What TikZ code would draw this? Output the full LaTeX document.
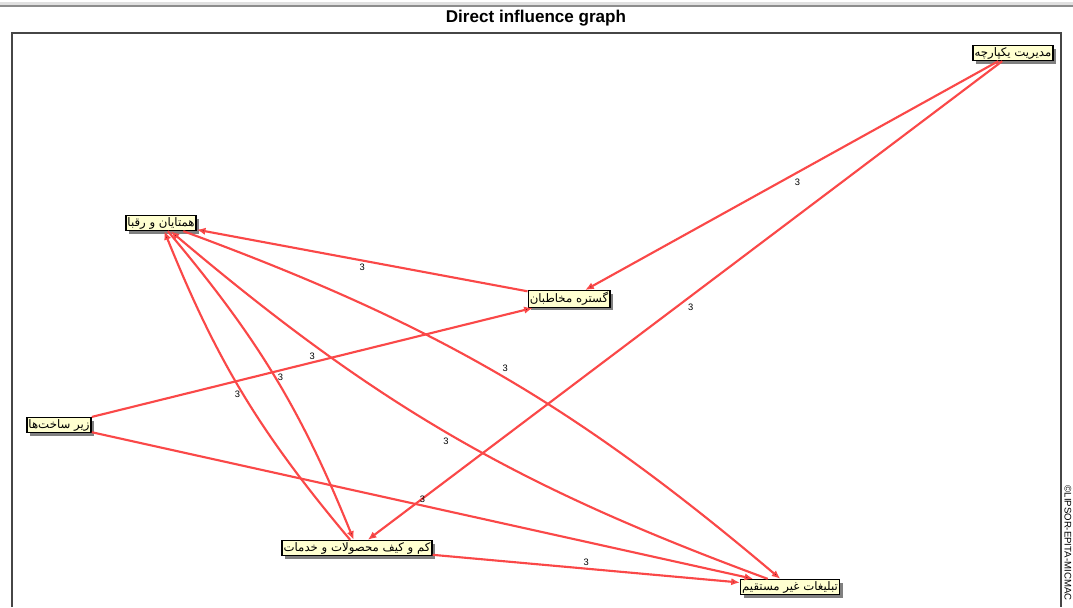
\documentclass[tikz,border=0pt]{standalone}
\usepackage{fontspec}
\setmainfont{Liberation Sans}
\newfontfamily\farsi[Script=Arabic]{DejaVu Sans}
\TeXXeTstate=1
\usetikzlibrary{arrows.meta,shadows}
\definecolor{inflred}{RGB}{250,72,72}
\definecolor{factorfill}{RGB}{255,255,208}
\definecolor{framegray}{RGB}{70,70,70}
\tikzset{
  factor/.style={draw=black, line width=1pt, fill=factorfill, inner sep=1.2pt,
    font=\farsi\fontsize{8.8}{10}\selectfont,
    drop shadow={shadow xshift=2.4pt, shadow yshift=-2.4pt, fill=black!50, opacity=1}},
  infl/.style={draw=inflred, line width=1.6pt, -{Latex[length=6.5pt,width=5.5pt]}},
  lbl/.style={font=\fontsize{7}{8}\selectfont, inner sep=1.5pt, text=black}
}
\begin{document}
\begin{tikzpicture}[x=0.75pt, y=-0.75pt]
  \useasboundingbox (0,0) rectangle (1073,607);
  \fill[black!12] (0,2) rectangle (1073,4.5);
  \fill[black!45] (0,4.5) rectangle (1073,6.5);
  \node (title) at (536,18) {\fontsize{12.8}{14}\selectfont\bfseries Direct influence graph};
  \draw[framegray, line width=1.5pt] (12,607) -- (12,33) -- (1061,33) -- (1061,607);
  \node (copy) at (1068,543) [rotate=-90, font=\fontsize{7.2}{8}\selectfont] {©LIPSOR-EPITA-MICMAC};

  \node (modiriat) at (1013,53) [factor] {\beginR مدیریت یکپارچه\endR};
  \node (hamtayan) at (161,223) [factor] {\beginR همتایان و رقبا\endR};
  \node (gostare) at (569,299) [factor] {\beginR گستره مخاطبان\endR};
  \node (zirsakht) at (59,425) [factor] {\beginR زیر ساخت‌ها\endR};
  \node (kamokeif) at (357,548) [factor] {\beginR کم و کیف محصولات و خدمات\endR};
  \node (tablighat) at (790,587) [factor] {\beginR تبلیغات غیر مستقیم\endR};

  \path[infl] (modiriat) edge node[lbl, below right] {3} (gostare)
              (modiriat) edge node[lbl, below right] {3} (kamokeif)
              (gostare) edge node[lbl, below] {3} (hamtayan)
              (zirsakht) edge node[lbl, above] {3} (gostare)
              (zirsakht) edge node[lbl, above] {3} (tablighat)
              (kamokeif) edge node[lbl, above] {3} (tablighat)
              (hamtayan) edge[bend left=9] node[lbl, right] {3} (kamokeif)
              (kamokeif) edge[bend left=9] node[lbl, left] {3} (hamtayan)
              (hamtayan) edge[bend left=10] node[lbl, above right] {3} (tablighat)
              (tablighat) edge[bend left=10] node[lbl, below left] {3} (hamtayan)
              ;
\end{tikzpicture}
\end{document}
